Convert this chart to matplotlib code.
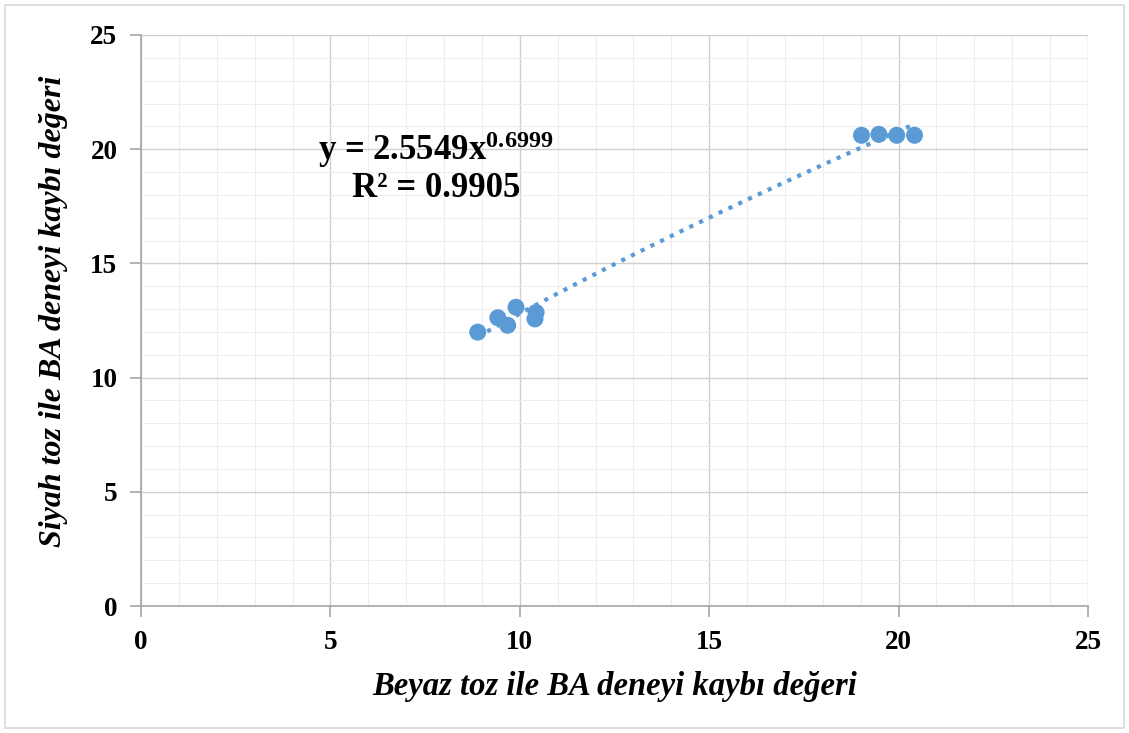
import matplotlib
matplotlib.use("Agg")
import matplotlib.pyplot as plt
import numpy as np
from matplotlib.patches import Rectangle

# Data
beyaz = [8.89, 9.42, 9.68, 9.90, 10.43, 10.40, 19.02, 19.48, 19.95, 20.42]
siyah = [11.99, 12.62, 12.29, 13.08, 12.85, 12.57, 20.61, 20.65, 20.61, 20.61]
fit_a = 2.5549
fit_b = 0.6999
r2 = 0.9905
xticks = [0, 5, 10, 15, 20, 25]
yticks = [0, 5, 10, 15, 20, 25]

color = "#5B9BD5"
serif = "Liberation Serif"
plt.rcParams["mathtext.fontset"] = "custom"
plt.rcParams["mathtext.rm"] = "Liberation Serif:bold"
plt.rcParams["mathtext.default"] = "rm"

fig = plt.figure(figsize=(11.29, 7.33), dpi=100)
ax = fig.add_axes([141 / 1129, 1 - 606 / 733, (1088 - 141) / 1129, (606 - 35) / 733])

ax.set_xlim(0, 25)
ax.set_ylim(0, 25)
ax.set_xticks(xticks)
ax.set_yticks(yticks)
ax.set_xticks(np.arange(0, 26, 1), minor=True)
ax.set_yticks(np.arange(0, 26, 1), minor=True)
ax.grid(which="major", color="#D0D0D0", linewidth=1.0)
ax.grid(which="minor", color="#EDEDED", linewidth=0.8)
ax.set_axisbelow(True)

for s in ["top", "right"]:
    ax.spines[s].set_visible(False)
for s in ["left", "bottom"]:
    ax.spines[s].set_color("#A6A6A6")
    ax.spines[s].set_linewidth(1.2)

ax.tick_params(which="major", length=8, color="#A6A6A6", width=1.2, pad=9)
ax.tick_params(which="minor", length=0)
for lab in ax.get_xticklabels() + ax.get_yticklabels():
    lab.set_fontfamily(serif)
    lab.set_fontweight("bold")
    lab.set_fontsize(19.5)

# trendline from fit
xs = np.linspace(min(beyaz), max(beyaz), 200)
ax.plot(xs, fit_a * xs ** fit_b, linestyle=(0, (1, 1.6)), color=color, linewidth=3, zorder=2)
ax.scatter(beyaz, siyah, s=150, color=color, zorder=3, edgecolors="none")

ax.text(7.78, 20.0, r"y = 2.5549x$^{0.6999}$", fontfamily=serif, fontweight="bold",
        fontsize=25, ha="center", va="center")
ax.text(7.78, 18.3, "R\u00b2 = 0.9905", fontfamily=serif, fontweight="bold",
        fontsize=25, ha="center", va="center")

ax.set_xlabel("Beyaz toz ile BA deneyi kaybı değeri", fontfamily=serif, fontweight="bold",
              fontstyle="italic", fontsize=23.5, labelpad=12)
ax.set_ylabel("Siyah toz ile BA deneyi kaybı değeri", fontfamily=serif, fontweight="bold",
              fontstyle="italic", fontsize=23, labelpad=16)
ax.yaxis.label.set_y(0.516)

fig.patches.append(Rectangle((5 / 1129, 5 / 733), 1 - 10 / 1129, 1 - 10 / 733,
                             transform=fig.transFigure, fill=False,
                             edgecolor="#D9D9D9", linewidth=1.2))

fig.savefig("out.png", dpi=100)
